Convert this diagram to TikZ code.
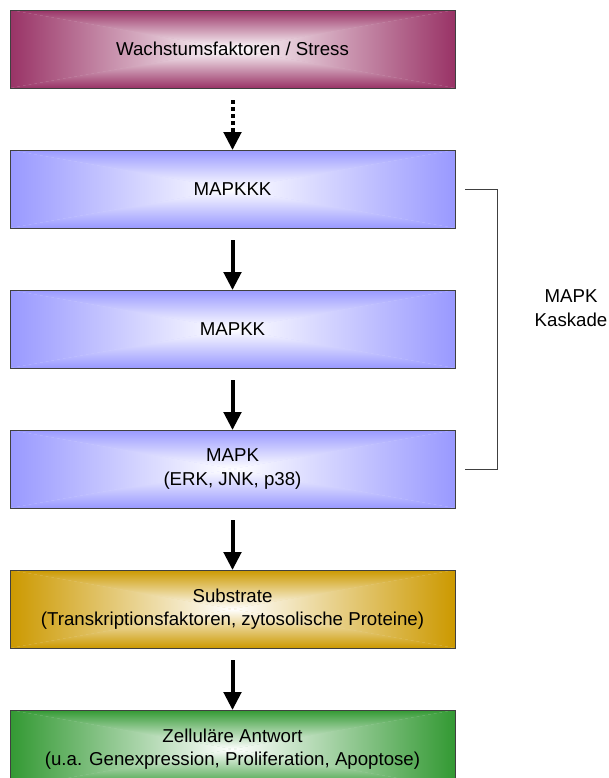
\documentclass[tikz,border=0pt]{standalone}
\usepackage{fontspec}
\setmainfont{Liberation Sans}
\usetikzlibrary{arrows.meta,positioning}

\definecolor{wachstum}{HTML}{993366}
\definecolor{kaskade}{HTML}{9999FF}
\definecolor{substrat}{HTML}{CC9900}
\definecolor{antwort}{HTML}{339933}
\definecolor{rand}{HTML}{404040}

\tikzset{
  kasten/.style={draw=rand, line width=0.75pt, minimum width=333.75pt, minimum height=58.5pt,
    inner sep=0pt, outer sep=0pt, align=center, font=\fontsize{14}{17.6}\selectfont,
    path picture={
      \fill[#1!40!white] (path picture bounding box.south west) rectangle (path picture bounding box.north east);
      \shade[top color=#1, middle color=#1!35!white, bottom color=white] (path picture bounding box.north west) -- (path picture bounding box.north east) -- (path picture bounding box.center) -- cycle;
      \shade[top color=white, middle color=#1!35!white, bottom color=#1] (path picture bounding box.south west) -- (path picture bounding box.south east) -- (path picture bounding box.center) -- cycle;
      \shade[left color=#1, middle color=#1!35!white, right color=white] (path picture bounding box.north west) -- (path picture bounding box.south west) -- (path picture bounding box.center) -- cycle;
      \shade[left color=white, middle color=#1!35!white, right color=#1] (path picture bounding box.north east) -- (path picture bounding box.south east) -- (path picture bounding box.center) -- cycle;
    }},
  pfeil/.style={line width=3pt, -{Triangle[length=13.5pt,width=13pt]}, shorten <=9pt},
  punktpfeil/.style={pfeil, dash pattern=on 3pt off 2.25pt},
  klammer/.style={draw=rand, line width=0.75pt},
}

\begin{document}
\begin{tikzpicture}[x=0.75pt,y=-0.75pt,node distance=46.5pt]
\useasboundingbox (0,0) rectangle (608,778);
%
\node[kasten=wachstum] (wachstum) at (232.5,49) {Wachstumsfaktoren / Stress};
\node[kasten=kaskade, below=of wachstum] (mapkkk) {MAPKKK};
\node[kasten=kaskade, below=of mapkkk] (mapkk) {MAPKK};
\node[kasten=kaskade, below=of mapkk] (mapk) {MAPK\\(ERK, JNK, p38)};
\node[kasten=substrat, below=of mapk] (substrat) {Substrate\\(Transkriptionsfaktoren, zytosolische Proteine)};
\node[kasten=antwort, below=of substrat] (antwort) {Zelluläre Antwort\\(u.a. Genexpression, Proliferation, Apoptose)};
%
\draw[punktpfeil] (wachstum.south) -- (mapkkk.north);
\draw[pfeil] (mapkkk.south) -- (mapkk.north);
\draw[pfeil] (mapkk.south) -- (mapk.north);
\draw[pfeil] (mapk.south) -- (substrat.north);
\draw[pfeil] (substrat.south) -- (antwort.north);
%
\draw[klammer] ([xshift=7.5pt]mapkkk.east) -- ++(32,0) |- ([xshift=7.5pt]mapk.east);
\node[align=center, font=\fontsize{14}{17.6}\selectfont] (kaskadetext) at (571,308) {MAPK\\Kaskade};
\end{tikzpicture}
\end{document}
